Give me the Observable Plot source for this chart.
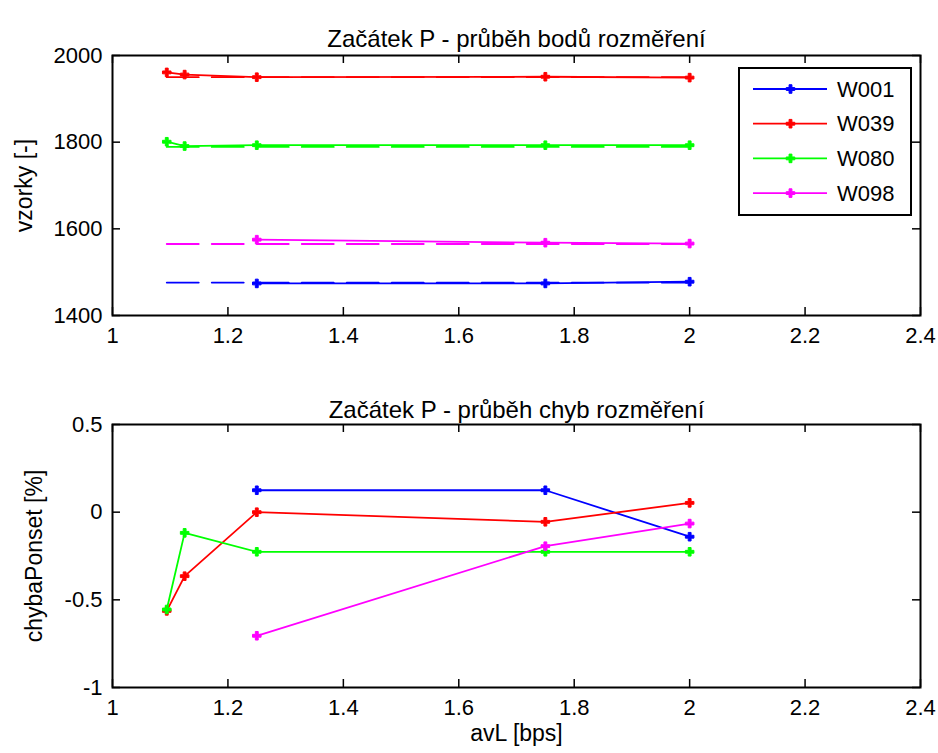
<!DOCTYPE html>
<html>
<head>
<meta charset="utf-8">
<script src="https://cdn.jsdelivr.net/npm/d3@7"></script>
<script src="https://cdn.jsdelivr.net/npm/@observablehq/plot@0.6"></script>
<style>
  body { margin: 0; background: white; }
  #wrap { position: relative; width: 938px; height: 753px; background: white; }
  #wrap > div, #wrap > svg { position: absolute; left: 0; }
</style>
</head>
<body>
<div id="wrap"></div>
<script>
// ---------- data ----------
const seriesNames = ["W001", "W039", "W080", "W098"];
const seriesColors = ["#0000ff", "#ff0000", "#00ff00", "#ff00ff"];

const avL5 = [1.094, 1.125, 1.25, 1.75, 2.0];
const avL3 = [1.25, 1.75, 2.0];

// top chart: samples (vzorky)
const w001Samples = [1474, 1474, 1478];
const w039Samples = [1961, 1956, 1950, 1951, 1949];
const w080Samples = [1801, 1791, 1793, 1793, 1793];
const w098Samples = [1575, 1568, 1566];
const refSamples  = [1476, 1950, 1789, 1565];   // dashed reference lines
const refStart = 1.094, refEnd = 2.0;

// bottom chart: error (chybaPonset %)
const w001Err = [0.125, 0.125, -0.14];
const w039Err = [-0.563, -0.365, 0, -0.055, 0.053];
const w080Err = [-0.555, -0.118, -0.226, -0.226, -0.226];
const w098Err = [-0.705, -0.194, -0.065];

const xTicks = [1, 1.2, 1.4, 1.6, 1.8, 2, 2.2, 2.4];
const yTicksTop = [1400, 1600, 1800, 2000];
const yTicksBottom = [-1, -0.5, 0, 0.5];

const titleTop = "Začátek P - průběh bodů rozměření";
const titleBottom = "Začátek P - průběh chyb rozměření";
const yLabelTop = "vzorky [-]";
const yLabelBottom = "chybaPonset [%]";
const xLabel = "avL [bps]";

// ---------- build rows ----------
const xsFor = [avL3, avL5, avL5, avL3];
const topVals = [w001Samples, w039Samples, w080Samples, w098Samples];
const botVals = [w001Err, w039Err, w080Err, w098Err];
function rows(vals) {
  const out = [];
  vals.forEach((arr, si) => arr.forEach((v, i) => out.push({series: seriesNames[si], x: xsFor[si][i], y: v})));
  return out;
}
const topRows = rows(topVals);
const botRows = rows(botVals);
const refRows = [];
refSamples.forEach((v, si) => { refRows.push({series: seriesNames[si], x: refStart, y: v}); refRows.push({series: seriesNames[si], x: refEnd, y: v}); });

const W = 938;
const ML = 112, MR = 18;
const font = "'Liberation Sans', Arial, sans-serif";
const fmt = d => String(d);
const colorScale = {domain: seriesNames, range: seriesColors};
const markR = 3.6;

function boxMarks(yTicks, plotW, plotH) {
  return [
    Plot.ruleX(xTicks, {x: d => d, insetTop: plotH - 8, stroke: "black", strokeWidth: 1.5}),
    Plot.ruleX(xTicks, {x: d => d, insetBottom: plotH - 8, stroke: "black", strokeWidth: 1.5}),
    Plot.ruleY(yTicks, {y: d => d, insetRight: plotW - 8, stroke: "black", strokeWidth: 1.5}),
    Plot.ruleY(yTicks, {y: d => d, insetLeft: plotW - 8, stroke: "black", strokeWidth: 1.5}),
    Plot.frame({stroke: "black", strokeWidth: 2}),
    Plot.axisX(xTicks, {tickSize: 0, tickPadding: 12, tickFormat: fmt, label: null, fontSize: 22}),
    Plot.axisY(yTicks, {tickSize: 0, tickPadding: 10, tickFormat: fmt, label: null, fontSize: 22})
  ];
}
function markers(data) {
  return Plot.dot(data, {x: "x", y: "y", fill: "series", stroke: "series", strokeWidth: 1, symbol: "cross", r: markR});
}

const plotW = W - ML - MR;

// ---------- top chart ----------
const topH = 370, topMT = 55, topMB = 55;
const chartTop = Plot.plot({
  width: W, height: topH,
  marginTop: topMT, marginBottom: topMB, marginLeft: ML, marginRight: MR,
  style: {fontFamily: font, fontSize: "22px", color: "black", background: "white", overflow: "visible"},
  x: {domain: [1, 2.4]},
  y: {domain: [1400, 2000]},
  color: colorScale,
  marks: [
    Plot.line(topRows, {x: "x", y: "y", z: "series", stroke: "series", strokeWidth: 1.8}),
    Plot.line(refRows, {x: "x", y: "y", z: "series", stroke: "series", strokeWidth: 1.8, strokeDasharray: "32,13"}),
    markers(topRows),
    ...boxMarks(yTicksTop, plotW, topH - topMT - topMB),
    Plot.text([titleTop], {text: d => d, frameAnchor: "top", dy: -26, fontSize: 24}),
    Plot.text([yLabelTop], {text: d => d, frameAnchor: "left", textAnchor: "middle", dx: -88, rotate: -90, fontSize: 23})
  ]
});
chartTop.style.top = "0px";

// ---------- bottom chart ----------
const botH = 383, botMT = 54, botMB = 66;
const chartBottom = Plot.plot({
  width: W, height: botH,
  marginTop: botMT, marginBottom: botMB, marginLeft: ML, marginRight: MR,
  style: {fontFamily: font, fontSize: "22px", color: "black", background: "white", overflow: "visible"},
  x: {domain: [1, 2.4]},
  y: {domain: [-1, 0.5]},
  color: colorScale,
  marks: [
    Plot.line(botRows, {x: "x", y: "y", z: "series", stroke: "series", strokeWidth: 1.8}),
    markers(botRows),
    ...boxMarks(yTicksBottom, plotW, botH - botMT - botMB),
    Plot.text([titleBottom], {text: d => d, frameAnchor: "top", dy: -24, fontSize: 24}),
    Plot.text([yLabelBottom], {text: d => d, frameAnchor: "left", textAnchor: "middle", dx: -78, rotate: -90, fontSize: 23}),
    Plot.text([xLabel], {text: d => d, frameAnchor: "bottom", dy: 53, fontSize: 23})
  ]
});
chartBottom.style.top = "370px";

const wrap = document.getElementById("wrap");
wrap.appendChild(chartTop);
wrap.appendChild(chartBottom);

// ---------- legend (overlay) ----------
const leg = d3.create("svg").attr("width", W).attr("height", 370)
  .style("position", "absolute").style("top", "0px").style("left", "0px")
  .style("font-family", font);
leg.append("rect").attr("x", 739).attr("y", 68).attr("width", 172).attr("height", 147)
  .attr("fill", "white").attr("stroke", "black").attr("stroke-width", 2);
const sym = d3.symbol(d3.symbolCross, markR * markR * Math.PI);
seriesNames.forEach((name, i) => {
  const y = 89 + i * 34.7;
  const g = leg.append("g");
  g.append("line").attr("x1", 753).attr("x2", 827).attr("y1", y).attr("y2", y)
    .attr("stroke", seriesColors[i]).attr("stroke-width", 1.8);
  g.append("path").attr("d", sym()).attr("transform", `translate(790.5,${y})`)
    .attr("fill", seriesColors[i]).attr("stroke", seriesColors[i]).attr("stroke-width", 1);
  g.append("text").attr("x", 837).attr("y", y).attr("dy", "0.35em").attr("font-size", 22).attr("fill", "black").text(name);
});
wrap.appendChild(leg.node());
</script>
</body>
</html>
